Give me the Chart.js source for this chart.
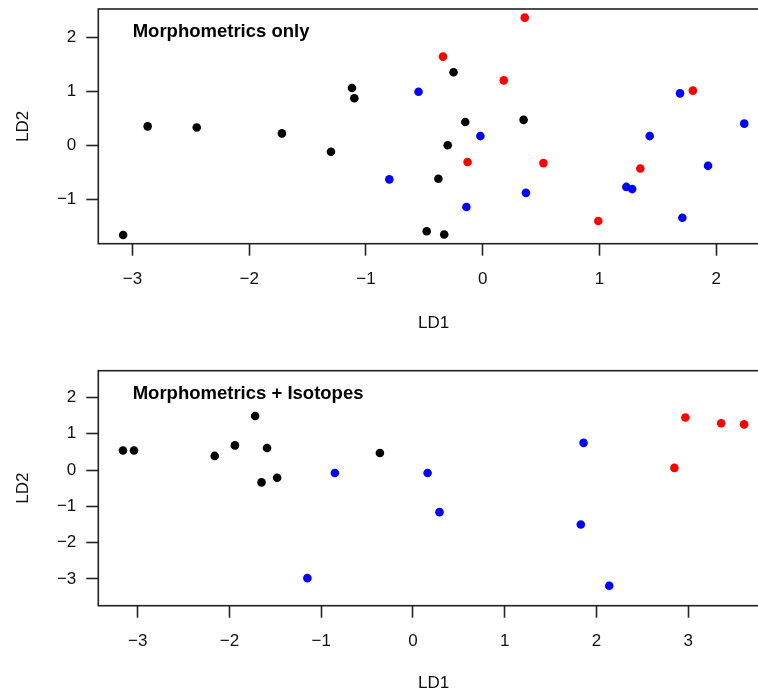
<!DOCTYPE html>
<html>
<head>
<meta charset="utf-8">
<script src="https://cdn.jsdelivr.net/npm/chart.js@4.4.1/dist/chart.umd.min.js"></script>
<style>
    html, body { margin: 0; padding: 0; background: #fff; overflow: hidden; }
    .panel { position: absolute; left: 0; width: 800px; }
    #topPanel { top: 0; height: 350px; }
    #bottomPanel { top: 360px; height: 335px; }
</style>
</head>
<body>
<div class="panel" id="topPanel"><canvas id="morphChart" width="800" height="350"></canvas></div>
<div class="panel" id="bottomPanel"><canvas id="isoChart" width="800" height="335"></canvas></div>
<script>
// Panel 1: morphometrics only
const morphBlackX = [-3.08, -2.87, -2.45, -1.72, -1.30, -1.12, -1.10, -0.48, -0.25, -0.15, 0.35, -0.30, -0.38, -0.33];
const morphBlackY = [-1.66, 0.35, 0.33, 0.22, -0.12, 1.06, 0.87, -1.59, 1.35, 0.43, 0.47, 0.00, -0.62, -1.65];
const morphBlueX = [-0.55, -0.80, -0.02, 0.37, -0.14, 1.69, 2.24, 1.43, 1.93, 1.23, 1.28, 1.71];
const morphBlueY = [0.99, -0.63, 0.17, -0.88, -1.14, 0.96, 0.40, 0.17, -0.38, -0.77, -0.81, -1.34];
const morphRedX = [0.36, -0.34, 0.18, -0.13, 0.52, 1.80, 1.35, 0.99];
const morphRedY = [2.36, 1.64, 1.20, -0.31, -0.33, 1.01, -0.43, -1.40];

// Panel 2: morphometrics + isotopes
const isoBlackX = [-3.16, -3.04, -2.16, -1.94, -1.72, -1.65, -1.59, -1.48, -0.36];
const isoBlackY = [0.54, 0.54, 0.39, 0.68, 1.49, -0.34, 0.61, -0.21, 0.47];
const isoBlueX = [-0.85, -1.15, 0.16, 0.29, 1.86, 1.83, 2.14];
const isoBlueY = [-0.08, -2.98, -0.08, -1.16, 0.75, -1.50, -3.19];
const isoRedX = [2.97, 3.36, 3.61, 2.85];
const isoRedY = [1.45, 1.29, 1.26, 0.06];

const morphXTicks = [-3, -2, -1, 0, 1, 2];
const morphYTicks = [-1, 0, 1, 2];
const isoXTicks = [-3, -2, -1, 0, 1, 2, 3];
const isoYTicks = [-3, -2, -1, 0, 1, 2];

const FONT = '"Liberation Sans", Arial, Helvetica, sans-serif';

function toPoints(xs, ys) {
    return xs.map((x, i) => ({ x: x, y: ys[i] }));
}

function minusLabel(v) {
    return v < 0 ? '\u2212' + Math.abs(v) : String(v);
}

// frame around the plot region plus the panel caption
const framePlugin = {
    id: 'frame',
    afterDraw(chart, args, opts) {
        const ctx = chart.ctx;
        const a = chart.chartArea;
        ctx.save();
        ctx.strokeStyle = '#222';
        ctx.lineWidth = 1.6;
        ctx.strokeRect(a.left, a.top, a.right - a.left, a.bottom - a.top);
        ctx.fillStyle = '#000';
        ctx.font = 'bold 18.5px ' + FONT;
        ctx.textAlign = 'left';
        ctx.textBaseline = 'middle';
        ctx.fillText(opts.text, a.left + 34.4, a.top + opts.dy);
        ctx.restore();
    }
};

function buildChart(canvasId, groups, xr, yr, xTicks, yTicks, caption, layout) {
    const colors = ['#000000', '#0000ff', '#ff0000'];
    return new Chart(document.getElementById(canvasId), {
        type: 'scatter',
        data: {
            datasets: groups.map((g, i) => ({
                data: g,
                backgroundColor: colors[i],
                borderWidth: 0,
                pointRadius: 4.3,
                pointHoverRadius: 4.3
            }))
        },
        options: {
            responsive: false,
            animation: false,
            events: [],
            layout: { padding: layout.padding },
            plugins: {
                legend: { display: false },
                tooltip: { enabled: false },
                frame: { text: caption, dy: layout.captionDy }
            },
            scales: {
                x: {
                    type: 'linear',
                    min: xr[0],
                    max: xr[1],
                    afterBuildTicks: s => { s.ticks = xTicks.map(v => ({ value: v })); },
                    afterFit: s => {
                        s.height = layout.xAxisHeight;
                        s.paddingLeft = 0;
                        s.paddingRight = 0;
                    },
                    border: { display: false },
                    grid: { drawOnChartArea: false, drawTicks: true, tickLength: 12, tickColor: '#222', tickWidth: 1.6 },
                    ticks: { color: '#111', padding: 13, maxRotation: 0, autoSkip: false, font: { family: FONT, size: 17 }, callback: minusLabel },
                    title: { display: true, text: 'LD1', color: '#111', padding: 0, font: { family: FONT, size: 17 } }
                },
                y: {
                    type: 'linear',
                    min: yr[0],
                    max: yr[1],
                    afterBuildTicks: s => { s.ticks = yTicks.map(v => ({ value: v })); },
                    afterFit: s => {
                        s.width = layout.yAxisWidth;
                        s.paddingTop = 0;
                        s.paddingBottom = 0;
                    },
                    border: { display: false },
                    grid: { drawOnChartArea: false, drawTicks: true, tickLength: 12, tickColor: '#222', tickWidth: 1.6 },
                    ticks: { color: '#111', padding: 10, autoSkip: false, font: { family: FONT, size: 17 }, callback: minusLabel },
                    title: { display: true, text: 'LD2', color: '#111', padding: 0, font: { family: FONT, size: 17 } }
                }
            }
        },
        plugins: [framePlugin]
    });
}

document.addEventListener('DOMContentLoaded', function() {
    buildChart('morphChart',
        [toPoints(morphBlackX, morphBlackY), toPoints(morphBlueX, morphBlueY), toPoints(morphRedX, morphRedY)],
        [-3.293, 2.452], [-1.82, 2.52], morphXTicks, morphYTicks, 'Morphometrics only',
        { padding: { left: 13, top: 9, right: 31, bottom: 16.8 }, xAxisHeight: 89.5, yAxisWidth: 85.3, captionDy: 23.3 });

    buildChart('isoChart',
        [toPoints(isoBlackX, isoBlackY), toPoints(isoBlueX, isoBlueY), toPoints(isoRedX, isoRedY)],
        [-3.429, 3.881], [-3.74, 2.74], isoXTicks, isoYTicks, 'Morphometrics + Isotopes',
        { padding: { left: 13, top: 10.7, right: 31, bottom: 1.5 }, xAxisHeight: 87.8, yAxisWidth: 85.3, captionDy: 23.6 });
});
</script>
</body>
</html>
